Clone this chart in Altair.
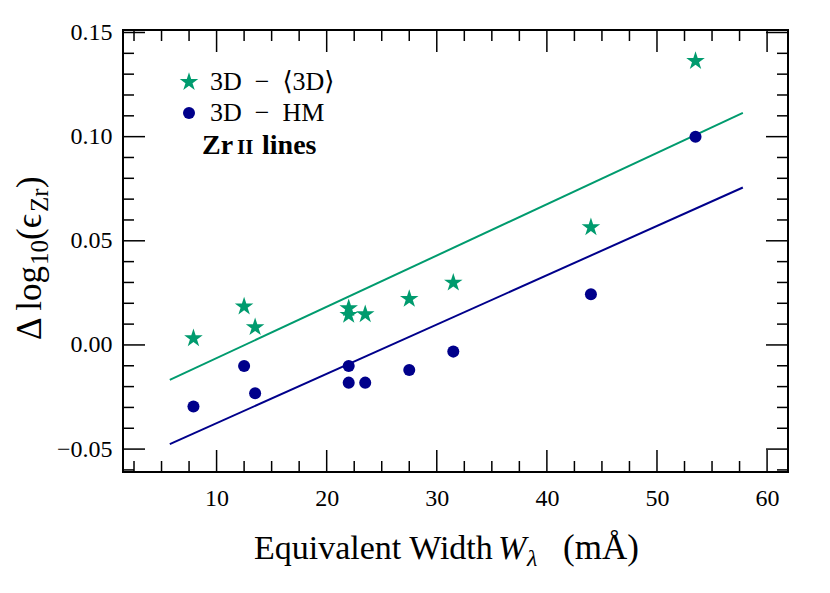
import altair as alt
import pandas as pd

# ---------------- data ----------------
W_mA = [7.9, 12.5, 13.5, 22.0, 22.0, 23.5, 27.5, 31.5, 44.0, 53.5]
delta_3d_avg = [0.0032, 0.0184, 0.0085, 0.0176, 0.0144, 0.0147, 0.0221, 0.0299, 0.0565, 0.1363]
delta_3d_hm = [-0.0296, -0.0101, -0.0232, -0.0101, -0.0181, -0.0181, -0.0120, -0.0032, 0.0243, 0.1000]
series_names = ["3D\u2002\u2212\u2002\u27e83D\u27e9", "3D\u2002\u2212\u2002HM"]

fit_W = [5.75, 57.8]
fit_3d_avg = [-0.0168, 0.1114]
fit_3d_hm = [-0.0476, 0.0756]

x_major = [10, 20, 30, 40, 50, 60]
x_minor = [2.5, 5, 7.5, 12.5, 15, 17.5, 22.5, 25, 27.5, 32.5, 35, 37.5,
           42.5, 45, 47.5, 52.5, 55, 57.5]
y_major = [-0.05, 0.0, 0.05, 0.10, 0.15]
y_minor = [-0.06, -0.04, -0.03, -0.02, -0.01, 0.01, 0.02, 0.03, 0.04,
           0.06, 0.07, 0.08, 0.09, 0.11, 0.12, 0.13, 0.14]

# ---------------- styling ----------------
GREEN = "#009B6E"
NAVY = "#00008B"
FONT = "Liberation Serif, DejaVu Serif, serif"
STAR = ("M0,-1L0.2245,-0.309L0.951,-0.309L0.363,0.118L0.588,0.809L0,0.382"
        "L-0.588,0.809L-0.363,0.118L-0.951,-0.309L-0.2245,-0.309Z")
PW, PH = 665, 442
MAJ, MIN = 22, 11

xs = alt.Scale(domain=[1.5, 61.9], nice=False, zero=False)
ys = alt.Scale(domain=[-0.061, 0.1512], nice=False, zero=False)

x_axis = alt.Axis(values=x_major, format="d", title=None, ticks=False, domain=False,
                  grid=False, labelFont=FONT, labelFontSize=24, labelColor="black",
                  labelPadding=14)
y_axis = alt.Axis(values=y_major, format=".2f", title=None, ticks=False, domain=False,
                  grid=False, labelFont=FONT, labelFontSize=24, labelColor="black",
                  labelPadding=11)

pts = pd.DataFrame({
    "W": W_mA + W_mA,
    "d": delta_3d_avg + delta_3d_hm,
    "s": [series_names[0]] * len(W_mA) + [series_names[1]] * len(W_mA),
})
fit = pd.DataFrame({"W": fit_W, "a": fit_3d_avg, "h": fit_3d_hm})

X = alt.X("W:Q", scale=xs, axis=x_axis)
legend = alt.Legend(orient="none", legendX=53, legendY=39, title=None,
                    labelFont=FONT, labelFontSize=26, labelColor="black",
                    labelOffset=8, rowPadding=5, padding=0, symbolStrokeWidth=0,
                    symbolOpacity=1)

line_a = alt.Chart(fit).mark_line(color=GREEN, strokeWidth=2).encode(
    x=X, y=alt.Y("a:Q", scale=ys, axis=y_axis))
line_h = alt.Chart(fit).mark_line(color=NAVY, strokeWidth=2).encode(
    x=X, y=alt.Y("h:Q", scale=ys, axis=y_axis))

points = alt.Chart(pts).mark_point(filled=True, opacity=1, strokeWidth=0).encode(
    x=X,
    y=alt.Y("d:Q", scale=ys, axis=y_axis),
    color=alt.Color("s:N", scale=alt.Scale(domain=series_names, range=[GREEN, NAVY]), legend=legend),
    shape=alt.Shape("s:N", scale=alt.Scale(domain=series_names, range=[STAR, "circle"]), legend=legend),
    size=alt.Size("s:N", scale=alt.Scale(domain=series_names, range=[380, 145]), legend=legend),
)

def xticks(vals, length):
    df = pd.DataFrame({"v": vals})
    xe = alt.X("v:Q", scale=xs, axis=x_axis)
    bottom = alt.Chart(df).mark_rule(color="black", strokeWidth=1.5).encode(
        x=xe, y=alt.value(PH), y2=alt.value(PH - length))
    top = alt.Chart(df).mark_rule(color="black", strokeWidth=1.5).encode(
        x=xe, y=alt.value(0), y2=alt.value(length))
    return [bottom, top]

def yticks(vals, length):
    df = pd.DataFrame({"v": vals})
    ye = alt.Y("v:Q", scale=ys, axis=y_axis)
    left = alt.Chart(df).mark_rule(color="black", strokeWidth=1.5).encode(
        y=ye, x=alt.value(0), x2=alt.value(length))
    right = alt.Chart(df).mark_rule(color="black", strokeWidth=1.5).encode(
        y=ye, x=alt.value(PW - length), x2=alt.value(PW))
    return [left, right]

one = pd.DataFrame({"k": [0]})

def label(text, x, y, size=34, align="left", angle=0, style="normal", weight="normal"):
    kw = dict(text=text, font=FONT, fontSize=size, align=align, baseline="alphabetic",
              color="black", fontStyle=style, fontWeight=weight)
    if angle:
        kw["angle"] = angle
    return alt.Chart(one).mark_text(**kw).encode(x=alt.value(x), y=alt.value(y))

texts = [
    # x-axis title
    label("Equivalent Width", 131, 529),
    label("W", 375, 529, style="italic"),
    label("\u03bb", 404, 536, size=24, style="italic"),
    label("(m\u00c5)", 440, 529, size=35),
    # y-axis title (rotated)
    label("\u0394 log", -82, 310, angle=270, size=35),
    label("10", -75, 235, size=25, angle=270),
    label("(\u03f5", -82, 210, angle=270, size=35),
    label("Zr", -75, 182, size=25, angle=270),
    label(")", -82, 158, angle=270, size=35),
    # annotation
    label("Zr", 79, 124, size=28, weight="bold"),
    label("II", 114, 124, size=21, weight="bold"),
    label("lines", 139, 124, size=28, weight="bold"),
]

layers = [line_a, line_h, points] + xticks(x_major, MAJ) + xticks(x_minor, MIN) \
    + yticks(y_major, MAJ) + yticks(y_minor, MIN) + texts

chart = alt.layer(*layers).properties(
    width=PW, height=PH,
    autosize=alt.AutoSizeParams(type="none"),
    padding={"left": 115, "top": 22, "right": 34, "bottom": 111},
).configure_view(stroke="black", strokeWidth=2)

chart.save("out.html", embed_options={"renderer": "svg", "actions": False})
